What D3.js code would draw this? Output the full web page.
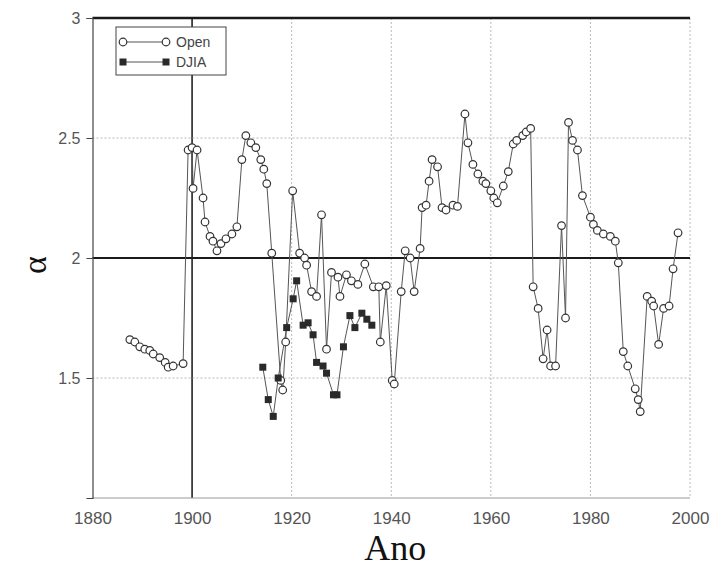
<!DOCTYPE html>
<html>
<head>
<meta charset="utf-8">
<script src="https://cdn.jsdelivr.net/npm/d3@7"></script>
<style>
  html, body { margin: 0; padding: 0; background: #fff; }
  svg { display: block; }
</style>
</head>
<body>
<svg id="chart" width="714" height="567"></svg>
<script>
// Open-circle series: year and alpha estimate
const openYears = [
  1887.5, 1888.5, 1889.5, 1890.5, 1891.5, 1892.2, 1893.5, 1894.6, 1895.2, 1896.2, 1898.2,
  1899.2, 1900.0, 1900.2, 1901.0, 1902.2, 1902.6, 1903.6, 1904.2, 1905.0, 1905.8, 1906.8,
  1908.0, 1909.0, 1910.0, 1910.8, 1911.8, 1912.8, 1913.8, 1914.4, 1915.0, 1916.0,
  1917.8, 1918.2, 1918.8, 1920.2, 1921.6, 1922.6, 1923.0, 1924.0, 1925.0, 1926.0, 1927.0,
  1928.0, 1929.3, 1929.7, 1931.0, 1932.0, 1933.3, 1934.7, 1936.4, 1937.5, 1937.8, 1939.0,
  1940.2, 1940.6, 1942.0, 1942.8, 1943.8, 1944.6, 1945.8, 1946.2, 1947.0, 1947.6, 1948.2,
  1949.3, 1950.2, 1951.0, 1952.4, 1953.3, 1954.8, 1955.4, 1956.4, 1957.4, 1958.4, 1959.0,
  1960.0, 1960.6, 1961.3, 1962.5, 1963.5, 1964.5, 1965.2, 1966.4, 1967.1, 1968.0, 1968.5,
  1969.5, 1970.5, 1971.3, 1972.0, 1973.0, 1974.2, 1975.0, 1975.6, 1976.4, 1977.4, 1978.4,
  1980.0, 1980.6, 1981.4, 1982.6, 1984.0, 1985.0, 1985.6, 1986.6, 1987.5, 1989.0, 1989.6,
  1990.0, 1991.4, 1992.3, 1992.7, 1993.7, 1994.7, 1995.8, 1996.6, 1997.6
];
const openAlpha = [
  1.66, 1.65, 1.63, 1.62, 1.615, 1.60, 1.585, 1.565, 1.545, 1.55, 1.56,
  2.45, 2.46, 2.29, 2.45, 2.25, 2.15, 2.09, 2.07, 2.03, 2.06, 2.08,
  2.10, 2.13, 2.41, 2.51, 2.48, 2.46, 2.41, 2.37, 2.31, 2.02,
  1.49, 1.45, 1.65, 2.28, 2.02, 2.00, 1.97, 1.86, 1.84, 2.18, 1.62,
  1.94, 1.92, 1.84, 1.93, 1.905, 1.89, 1.975, 1.88, 1.88, 1.65, 1.885,
  1.49, 1.475, 1.86, 2.03, 2.00, 1.86, 2.04, 2.21, 2.22, 2.32, 2.41,
  2.38, 2.21, 2.20, 2.22, 2.215, 2.60, 2.48, 2.39, 2.35, 2.32, 2.31,
  2.28, 2.25, 2.23, 2.30, 2.36, 2.475, 2.49, 2.51, 2.525, 2.54, 1.88,
  1.79, 1.58, 1.70, 1.55, 1.55, 2.135, 1.75, 2.565, 2.49, 2.45, 2.26,
  2.17, 2.14, 2.115, 2.10, 2.09, 2.07, 1.98, 1.61, 1.55, 1.455, 1.41,
  1.36, 1.84, 1.82, 1.80, 1.64, 1.79, 1.80, 1.955, 2.105
];

// Filled-square series
const djiaYears = [
  1914.2, 1915.3, 1916.3, 1917.3, 1919.0, 1920.3, 1921.0, 1922.3, 1923.3, 1924.3, 1925.0,
  1926.3, 1927.0, 1928.4, 1929.1, 1930.4, 1931.7, 1932.7, 1934.1, 1935.1, 1936.1
];
const djiaAlpha = [
  1.545, 1.41, 1.34, 1.50, 1.71, 1.83, 1.905, 1.72, 1.73, 1.68, 1.565,
  1.55, 1.52, 1.43, 1.43, 1.63, 1.76, 1.71, 1.77, 1.745, 1.72
];

const xTicks = [1880, 1900, 1920, 1940, 1960, 1980, 2000];
const yTicks = [1.5, 2, 2.5, 3];
const yTickLabels = ["1.5", "2", "2.5", "3"];
const legendLabels = ["Open", "DJIA"];

const svg = d3.select("#chart");
const plot = { left: 92.5, right: 690, top: 18, bottom: 498 };

const x = d3.scaleLinear().domain([1880, 2000]).range([plot.left, plot.right]);
const y = d3.scaleLinear().domain([1, 3]).range([plot.bottom, plot.top]);

// Grid: light dotted lines, with the 1900 line and alpha = 2 / 3 lines drawn heavy
const grid = svg.append("g");
xTicks.forEach(t => {
  const heavy = t === 1900;
  if (t === 1880) return;
  grid.append("line")
    .attr("x1", x(t)).attr("x2", x(t))
    .attr("y1", plot.top).attr("y2", plot.bottom)
    .attr("stroke", heavy ? "#222" : "#b8b8b8")
    .attr("stroke-width", heavy ? 1.6 : 1)
    .attr("stroke-dasharray", heavy ? null : "2,2");
});
yTicks.forEach(t => {
  const heavy = t === 2 || t === 3;
  grid.append("line")
    .attr("x1", plot.left).attr("x2", plot.right)
    .attr("y1", y(t)).attr("y2", y(t))
    .attr("stroke", heavy ? "#1a1a1a" : "#b8b8b8")
    .attr("stroke-width", t === 3 ? 2.6 : heavy ? 2 : 1)
    .attr("stroke-dasharray", heavy ? null : "2,2");
});
// bottom edge
grid.append("line")
  .attr("x1", plot.left).attr("x2", plot.right)
  .attr("y1", plot.bottom).attr("y2", plot.bottom)
  .attr("stroke", "#9a9a9a").attr("stroke-width", 1);

// Left axis with outward ticks
const yAxis = d3.axisLeft(y).tickValues(yTicks)
  .tickFormat((d, i) => yTickLabels[i]).tickSize(6).tickPadding(6);
const gy = svg.append("g").attr("transform", `translate(${plot.left},0)`).call(yAxis);
gy.select(".domain").attr("stroke", "#444").attr("stroke-width", 1.2);
gy.selectAll(".tick line").attr("stroke", "#444");
gy.selectAll(".tick text")
  .attr("font-family", "Liberation Sans, Arial, sans-serif")
  .attr("font-size", 16).attr("fill", "#555");

// Bottom axis labels
const xAxis = d3.axisBottom(x).tickValues(xTicks).tickFormat(d3.format("d"))
  .tickSize(0).tickPadding(14);
const gx = svg.append("g").attr("transform", `translate(0,${plot.bottom})`).call(xAxis);
gx.select(".domain").remove();
gx.selectAll(".tick text")
  .attr("font-family", "Liberation Sans, Arial, sans-serif")
  .attr("font-size", 17).attr("fill", "#555");

// Axis titles
svg.append("text")
  .attr("x", (plot.left + plot.right) / 2 + 4).attr("y", 560)
  .attr("text-anchor", "middle")
  .attr("font-family", "Liberation Serif, 'Times New Roman', serif")
  .attr("font-size", 36).attr("fill", "#111")
  .text("Ano");
svg.append("text")
  .attr("transform", "translate(46,265) rotate(-90)")
  .attr("text-anchor", "middle")
  .attr("font-family", "Liberation Serif, 'Times New Roman', serif")
  .attr("font-size", 34).attr("fill", "#111")
  .text("α");

// Data lines
const openData = openYears.map((yr, i) => ({ yr, a: openAlpha[i] }));
const djiaData = djiaYears.map((yr, i) => ({ yr, a: djiaAlpha[i] }));
const line = d3.line().x(d => x(d.yr)).y(d => y(d.a));

svg.append("path").datum(openData)
  .attr("d", line).attr("fill", "none")
  .attr("stroke", "#555").attr("stroke-width", 1);
svg.append("path").datum(djiaData)
  .attr("d", line).attr("fill", "none")
  .attr("stroke", "#555").attr("stroke-width", 1);

// Markers
svg.append("g").selectAll("circle").data(openData).join("circle")
  .attr("cx", d => x(d.yr)).attr("cy", d => y(d.a)).attr("r", 3.8)
  .attr("fill", "#fff").attr("stroke", "#333").attr("stroke-width", 1.2);
const sq = 7;
svg.append("g").selectAll("rect").data(djiaData).join("rect")
  .attr("x", d => x(d.yr) - sq / 2).attr("y", d => y(d.a) - sq / 2)
  .attr("width", sq).attr("height", sq)
  .attr("fill", "#2a2a2a");

// Legend
const lg = svg.append("g");
lg.append("rect").attr("x", 116).attr("y", 27).attr("width", 110).attr("height", 48)
  .attr("fill", "#fff").attr("stroke", "#444").attr("stroke-width", 1);
const rows = [42, 62];
lg.append("line").attr("x1", 123).attr("x2", 166).attr("y1", rows[0]).attr("y2", rows[0])
  .attr("stroke", "#555").attr("stroke-width", 1);
[123, 166].forEach(cx => lg.append("circle").attr("cx", cx).attr("cy", rows[0]).attr("r", 3.8)
  .attr("fill", "#fff").attr("stroke", "#333").attr("stroke-width", 1.2));
lg.append("line").attr("x1", 123).attr("x2", 166).attr("y1", rows[1]).attr("y2", rows[1])
  .attr("stroke", "#555").attr("stroke-width", 1);
[123, 166].forEach(cx => lg.append("rect").attr("x", cx - sq / 2).attr("y", rows[1] - sq / 2)
  .attr("width", sq).attr("height", sq).attr("fill", "#2a2a2a"));
legendLabels.forEach((t, i) => lg.append("text")
  .attr("x", 176).attr("y", rows[i] + 5)
  .attr("font-family", "Liberation Sans, Arial, sans-serif")
  .attr("font-size", 14).attr("fill", "#444").text(t));
</script>
</body>
</html>
